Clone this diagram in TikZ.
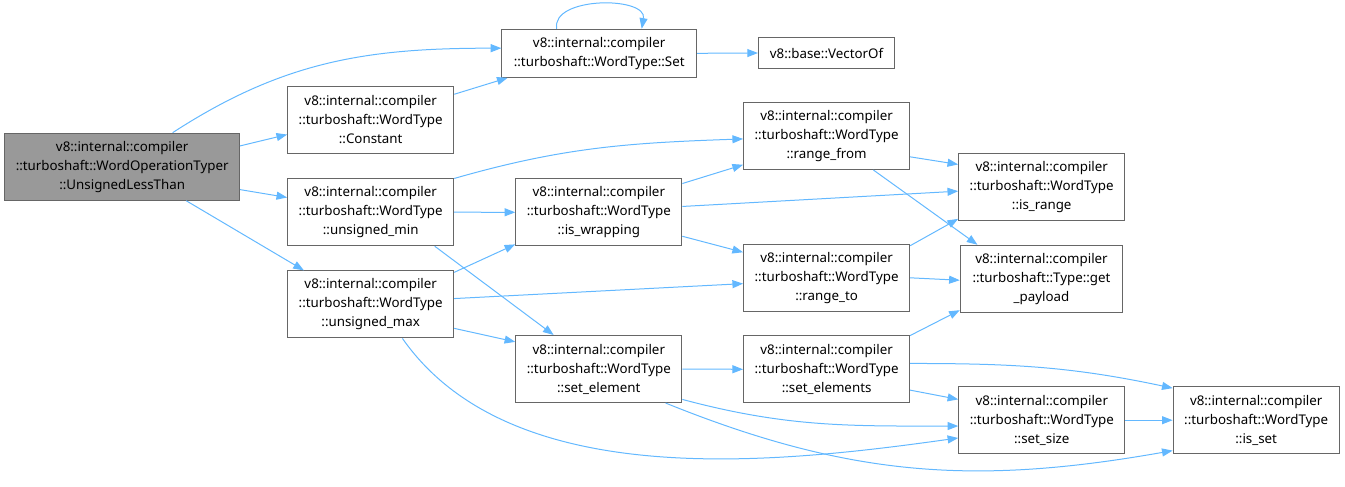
\documentclass[tikz,border=0pt]{standalone}
\usepackage{fontspec}
\setmainfont{Noto Sans}
\usetikzlibrary{arrows.meta}
\definecolor{edgeblue}{HTML}{63B8FF}
\definecolor{boxgray}{HTML}{666666}
\definecolor{mainfill}{HTML}{999999}
\newcommand{\wtype}[1]{v8::internal::compiler\\::turboshaft::WordType\\::#1}

\begin{document}
\begin{tikzpicture}[x=0.75pt, y=0.75pt, >={Triangle[length=8pt,width=6pt]}, font=\fontsize{10}{14.25}\selectfont,
		box/.style={draw=boxgray, line width=0.8pt, fill=white, align=center, inner sep=1pt, minimum width=124.5pt, minimum height=50.25pt},
		edge/.style={->, draw=edgeblue, line width=0.75pt}]
	\useasboundingbox (0,0) rectangle (1345,-486);
	% nodes
	\node[box, fill=mainfill, minimum width=175.9pt] (main) at (122.2,-166.7) {v8::internal::compiler\\::turboshaft::WordOperationTyper\\::UnsignedLessThan};
	\node[box, minimum width=145.9pt, minimum height=36pt] (set) at (599.2,-53.3) {v8::internal::compiler\\::turboshaft::WordType::Set};
	\node[box, minimum width=102pt, minimum height=23.25pt] (vecof) at (826.5,-53) {v8::base::VectorOf};
	\foreach \nm/\px/\py/\fn in {const/370.7/-119.8/Constant, umin/370.7/-212.2/unsigned\_min, umax/370.7/-304.4/unsigned\_max,
			iswrap/598.8/-212.3/is\_wrapping, setel/598.8/-369/set\_element, rfrom/826.6/-136/range\_from, rto/826.6/-277.8/range\_to,
			setels/826.6/-369.3/set\_elements, isrange/1041.7/-186.8/is\_range, setsize/1041.8/-420.2/set\_size, isset/1256.2/-420.2/is\_set}
		\node[box] (\nm) at (\px,\py) {\wtype{\fn}};
	\node[box, minimum width=121.8pt] (payload) at (1041.5,-278.8) {v8::internal::compiler\\::turboshaft::Type::get\\\_payload};
	% straight calls
	\foreach \a/\b in {main.10/const.190, main.349/umin.170, main.332/umax.153, const.17/set.195, set.east/vecof.west,
			umin.east/iswrap.west, umin.332/setel.143, umax.21/iswrap.201, umax.4/rto.184, umax.344/setel.162,
			iswrap.19/rfrom.199, iswrap.4/isrange.183, iswrap.344/rto.163, rfrom.346/isrange.165, rfrom.324/payload.152,
			rto.21/isrange.201, rto.0/payload.181, setel.east/setels.west, setels.22/payload.201, setels.346/setsize.166,
			setsize.east/isset.west}
		\draw[edge] (\a) -- (\b);
	% curved calls
	\draw[edge] (main.34) to[out=33, in=180] (set.177);
	\draw[edge] (set.150) to[out=100, in=80] (set.30);
	\draw[edge] (umin.22) to[out=16, in=182] (rfrom.182);
	\draw[edge] (umax.313) to[out=-55, in=188, looseness=0.85] (setsize.192);
	\draw[edge] (setel.340) to[out=-15, in=180] (setsize.184);
	\draw[edge] (setel.333) to[out=-22, in=190] (isset.200);
	\draw[edge] (setels.4) to[out=0, in=168] (isset.159);
\end{tikzpicture}
\end{document}
